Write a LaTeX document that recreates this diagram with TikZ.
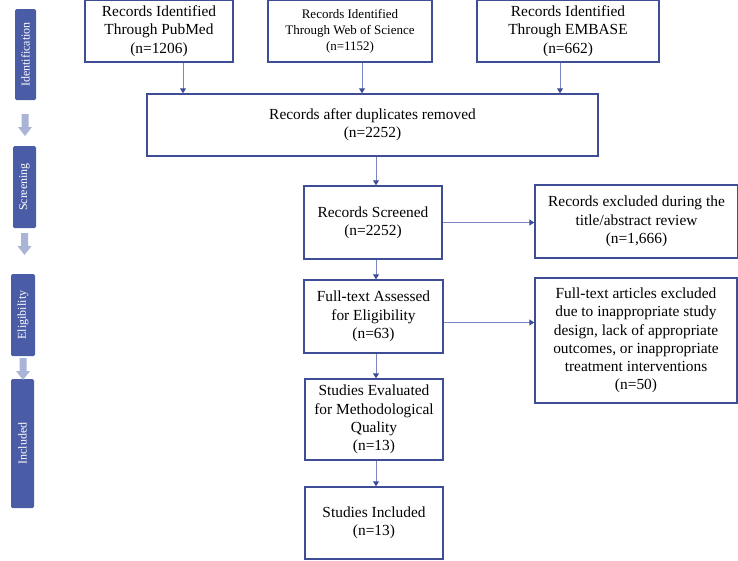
\documentclass[tikz,border=0pt]{standalone}
\usepackage{fontspec}
\setmainfont{Liberation Serif}
\usetikzlibrary{arrows.meta}
\definecolor{stageBlue}{RGB}{74,92,166}
\definecolor{stageArrow}{RGB}{170,180,214}
\definecolor{boxBlue}{RGB}{63,77,150}
\definecolor{lineBlue}{RGB}{120,134,196}

\begin{document}
\begin{tikzpicture}[x=1pt,y=-1pt,
    box/.style={draw=boxBlue, line width=1.4pt, align=center, inner sep=2pt,
      font=\fontsize{15.4}{18.3}\selectfont},
    stage/.style={fill=stageBlue, rounded corners=1.5pt, text=white, rotate=90,
      inner sep=0pt, font=\fontsize{12}{14}\selectfont},
    flow/.style={draw=lineBlue, line width=1pt,
      -{Triangle[length=5pt,width=6pt,color=boxBlue]}}]
    \useasboundingbox (0,0) rectangle (738,560);
    % stages on the left
    \node[stage, minimum width=91pt, minimum height=21pt] (ident) at (25.5,54.5) {Identification};
    \node[stage, minimum width=82pt, minimum height=23pt] (screen) at (24.5,187) {Screening};
    \node[stage, minimum width=82pt, minimum height=24pt] (elig) at (23,315) {Eligibility};
    \node[stage, minimum width=129pt, minimum height=23pt] (incl) at (22.5,443.5) {Included};
    \foreach \ax/\ay in {25/114, 24.5/233, 23/358}
        \fill[stageArrow] (\ax-3.5,\ay) -- (\ax+3.5,\ay) -- (\ax+3.5,\ay+13) -- (\ax+7,\ay+13)
            -- (\ax,\ay+22) -- (\ax-7,\ay+13) -- (\ax-3.5,\ay+13) -- cycle;
    % flow boxes
    \node[box, minimum width=148pt, minimum height=62pt] (pubmed) at (159,31) {Records Identified\\Through PubMed\\(n=1206)};
    \node[box, minimum width=164pt, minimum height=62pt, font=\fontsize{13}{16}\selectfont] (wos) at (350,31) {Records Identified\\Through Web of Science\\(n=1152)};
    \node[box, minimum width=182pt, minimum height=62pt] (embase) at (568,31) {Records Identified\\Through EMBASE\\(n=662)};
    \node[box, minimum width=451pt, minimum height=62pt] (dedup) at (372.5,125) {Records after duplicates removed\\(n=2252)};
    \node[box, minimum width=138pt, minimum height=73pt] (screened) at (373,222.5) {Records Screened\\(n=2252)};
    \node[box, minimum width=203pt, minimum height=73pt] (titleexcl) at (636.5,221.5) {Records excluded during the\\title/abstract review\\(n=1,666)};
    \node[box, minimum width=139pt, minimum height=73pt] (fulltext) at (373.5,316.5) {Full-text Assessed\\for Eligibility\\(n=63)};
    \node[box, minimum width=202pt, minimum height=125pt] (textexcl) at (636,340.5) {Full-text articles excluded\\due to inappropriate study\\design, lack of appropriate\\outcomes, or inappropriate\\treatment interventions\\(n=50)};
    \node[box, minimum width=138pt, minimum height=81pt] (quality) at (374,419.5) {Studies Evaluated\\for Methodological\\Quality\\(n=13)};
    \node[box, minimum width=138pt, minimum height=72pt] (included) at (374,523) {Studies Included\\(n=13)};
    % connectors
    \draw[flow] ([xshift=24pt]pubmed.south) -- ([xshift=24pt]pubmed.south |- dedup.north);
    \draw[flow] ([xshift=12pt]wos.south) -- ([xshift=12pt]wos.south |- dedup.north);
    \draw[flow] ([xshift=-8pt]embase.south) -- ([xshift=-8pt]embase.south |- dedup.north);
    \draw[flow] ([xshift=3.5pt]dedup.south) -- ([xshift=3.5pt]dedup.south |- screened.north);
    \draw[flow] ([xshift=3pt]screened.south) -- ([xshift=3pt]screened.south |- fulltext.north);
    \draw[flow] (screened.east) -- (screened.east -| titleexcl.west);
    \draw[flow] ([yshift=-6pt]fulltext.east) -- ([yshift=-6pt]fulltext.east -| textexcl.west);
    \draw[flow] ([xshift=2.5pt]fulltext.south) -- ([xshift=2.5pt]fulltext.south |- quality.north);
    \draw[flow] ([xshift=2pt]quality.south) -- ([xshift=2pt]quality.south |- included.north);
\end{tikzpicture}
\end{document}
